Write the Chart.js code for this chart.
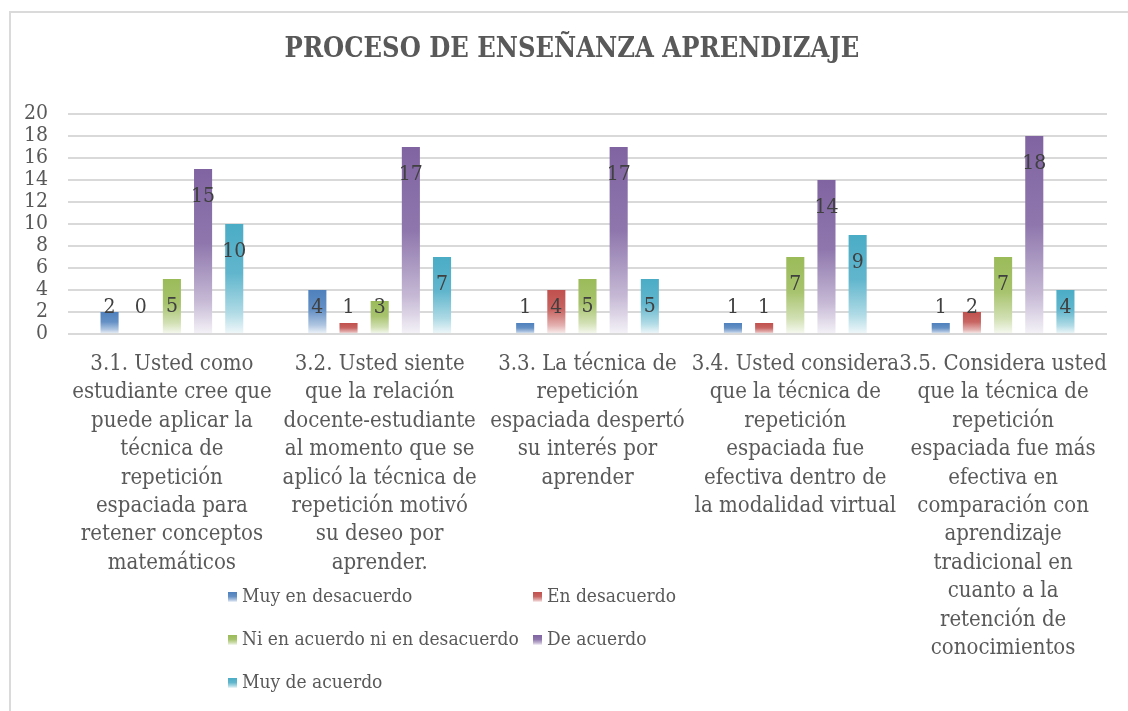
<!DOCTYPE html>
<html lang="es">
<head>
<meta charset="UTF-8">
<title>Proceso de enseñanza aprendizaje</title>
<script src="https://cdn.jsdelivr.net/npm/chart.js"></script>
<style>
  html, body { margin: 0; padding: 0; background: #fff; }
  #wrap { position: relative; width: 1128px; height: 711px; }
  #frame {
    position: absolute; left: 9px; top: 11px; right: -5px; bottom: -5px;
    border-top: 2px solid #dadada; border-left: 2px solid #dadada;
  }
  #chart { position: absolute; left: 0; top: 0; }
</style>
</head>
<body>
<div id="wrap">
  <div id="frame"></div>
  <canvas id="chart" width="1128" height="711"></canvas>
</div>
<script>
// data
var chartTitle = 'PROCESO DE ENSEÑANZA APRENDIZAJE';
var categories = [
  ['3.1. Usted como', 'estudiante cree que', 'puede aplicar la', 'técnica de', 'repetición', 'espaciada para', 'retener conceptos', 'matemáticos'],
  ['3.2. Usted siente', 'que la relación', 'docente-estudiante', 'al momento que se', 'aplicó la técnica de', 'repetición motivó', 'su deseo por', 'aprender.'],
  ['3.3. La técnica de', 'repetición', 'espaciada despertó', 'su interés por', 'aprender'],
  ['3.4. Usted considera', 'que la técnica de', 'repetición', 'espaciada fue', 'efectiva dentro de', 'la modalidad virtual'],
  ['3.5. Considera usted', 'que la técnica de', 'repetición', 'espaciada fue más', 'efectiva en', 'comparación con', 'aprendizaje', 'tradicional en', 'cuanto a la', 'retención de', 'conocimientos']
];
var seriesNames = ['Muy en desacuerdo', 'En desacuerdo', 'Ni en acuerdo ni en desacuerdo', 'De acuerdo', 'Muy de acuerdo'];
var muyEnDesacuerdo = [2, 4, 1, 1, 1];
var enDesacuerdo = [0, 1, 4, 1, 2];
var niNi = [5, 3, 5, 7, 7];
var deAcuerdo = [15, 17, 17, 14, 18];
var muyDeAcuerdo = [10, 7, 5, 9, 4];
var yTicks = [0, 2, 4, 6, 8, 10, 12, 14, 16, 18, 20];

var colors = ['#4f81bd', '#c0504d', '#9bbb59', '#8064a2', '#4bacc6'];
var FONT = "'DejaVu Serif Condensed', 'DejaVu Serif', serif";
var TEXT = '#595959';

function mix(hex, t) {
  var r = parseInt(hex.substr(1, 2), 16), g = parseInt(hex.substr(3, 2), 16), b = parseInt(hex.substr(5, 2), 16);
  r = Math.round(r + (255 - r) * t); g = Math.round(g + (255 - g) * t); b = Math.round(b + (255 - b) * t);
  return 'rgb(' + r + ',' + g + ',' + b + ')';
}

function fade(c, y0, y1, ctx) {
  var gr = ctx.createLinearGradient(0, y0, 0, y1);
  gr.addColorStop(0, c);
  gr.addColorStop(0.45, mix(c, 0.12));
  gr.addColorStop(0.8, mix(c, 0.55));
  gr.addColorStop(1, mix(c, 0.92));
  return gr;
}

function barFill(color) {
  return function (context) {
    var chart = context.chart;
    if (!chart.chartArea || context.raw == null) return color;
    var y = chart.scales.y;
    var top = y.getPixelForValue(context.raw), bottom = y.getPixelForValue(0);
    if (bottom - top < 1) return color;
    return fade(color, top, bottom, chart.ctx);
  };
}

// title, centred a bit right of the canvas middle as in the original
var titleText = {
  id: 'titleText',
  afterDraw: function (chart) {
    var ctx = chart.ctx;
    ctx.save();
    ctx.font = 'bold 27px ' + FONT;
    ctx.fillStyle = TEXT;
    ctx.textAlign = 'center';
    ctx.textBaseline = 'middle';
    ctx.fillText(chartTitle, 572, 50);
    ctx.restore();
  }
};

// value labels: inside the bar end, but never lower than the base area
var valueLabels = {
  id: 'valueLabels',
  afterDatasetsDraw: function (chart) {
    var ctx = chart.ctx, y = chart.scales.y;
    ctx.save();
    ctx.font = '21px ' + FONT;
    ctx.fillStyle = '#404040';
    ctx.textAlign = 'center';
    ctx.textBaseline = 'middle';
    chart.data.datasets.forEach(function (ds, i) {
      chart.getDatasetMeta(i).data.forEach(function (bar, j) {
        var v = ds.data[j];
        ctx.fillText(String(v), bar.x, y.getPixelForValue(Math.max(v - 2.5, 2.4)));
      });
    });
    ctx.restore();
  }
};

// legend in two columns, drawn over the lower area like the original
var legendBox = {
  id: 'legendBox',
  afterDraw: function (chart) {
    var ctx = chart.ctx;
    var x0 = 228, colW = 305, y0 = 597, rowH = 43;
    ctx.save();
    ctx.font = '19px ' + FONT;
    ctx.textBaseline = 'middle';
    chart.data.datasets.forEach(function (ds, i) {
      var x = x0 + (i % 2) * colW, yy = y0 + Math.floor(i / 2) * rowH;
      ctx.fillStyle = fade(colors[i], yy - 5, yy + 5, ctx);
      ctx.fillRect(x, yy - 5, 9, 10);
      ctx.fillStyle = TEXT;
      ctx.fillText(ds.label, x + 14, yy);
    });
    ctx.restore();
  }
};

var values = [muyEnDesacuerdo, enDesacuerdo, niNi, deAcuerdo, muyDeAcuerdo];

new Chart(document.getElementById('chart'), {
  type: 'bar',
  data: {
    labels: categories,
    datasets: seriesNames.map(function (name, i) {
      return {
        label: name,
        data: values[i],
        backgroundColor: barFill(colors[i]),
        categoryPercentage: 0.75,
        barPercentage: 0.58
      };
    })
  },
  options: {
    responsive: false,
    animation: false,
    layout: { padding: { left: 0, right: 21, top: 114, bottom: 0 } },
    plugins: {
      legend: { display: false },
      tooltip: { enabled: false },
      title: { display: false }
    },
    scales: {
      x: {
        grid: { display: false },
        border: { display: false },
        ticks: {
          color: TEXT,
          font: { family: FONT, size: 22, lineHeight: '28.4px' },
          autoSkip: false,
          maxRotation: 0,
          minRotation: 0,
          padding: 8
        },
        afterFit: function (s) { s.height = 377; }
      },
      y: {
        min: 0,
        max: 20,
        afterBuildTicks: function (s) { s.ticks = yTicks.map(function (v) { return { value: v }; }); },
        grid: { color: '#d9d9d9', lineWidth: 2, drawTicks: false },
        border: { display: false },
        ticks: {
          color: TEXT,
          font: { family: FONT, size: 21, lineHeight: 1 },
          autoSkip: false,
          padding: 20
        },
        afterFit: function (s) { s.width = 68; }
      }
    }
  },
  plugins: [titleText, valueLabels, legendBox]
});
</script>
</body>
</html>
